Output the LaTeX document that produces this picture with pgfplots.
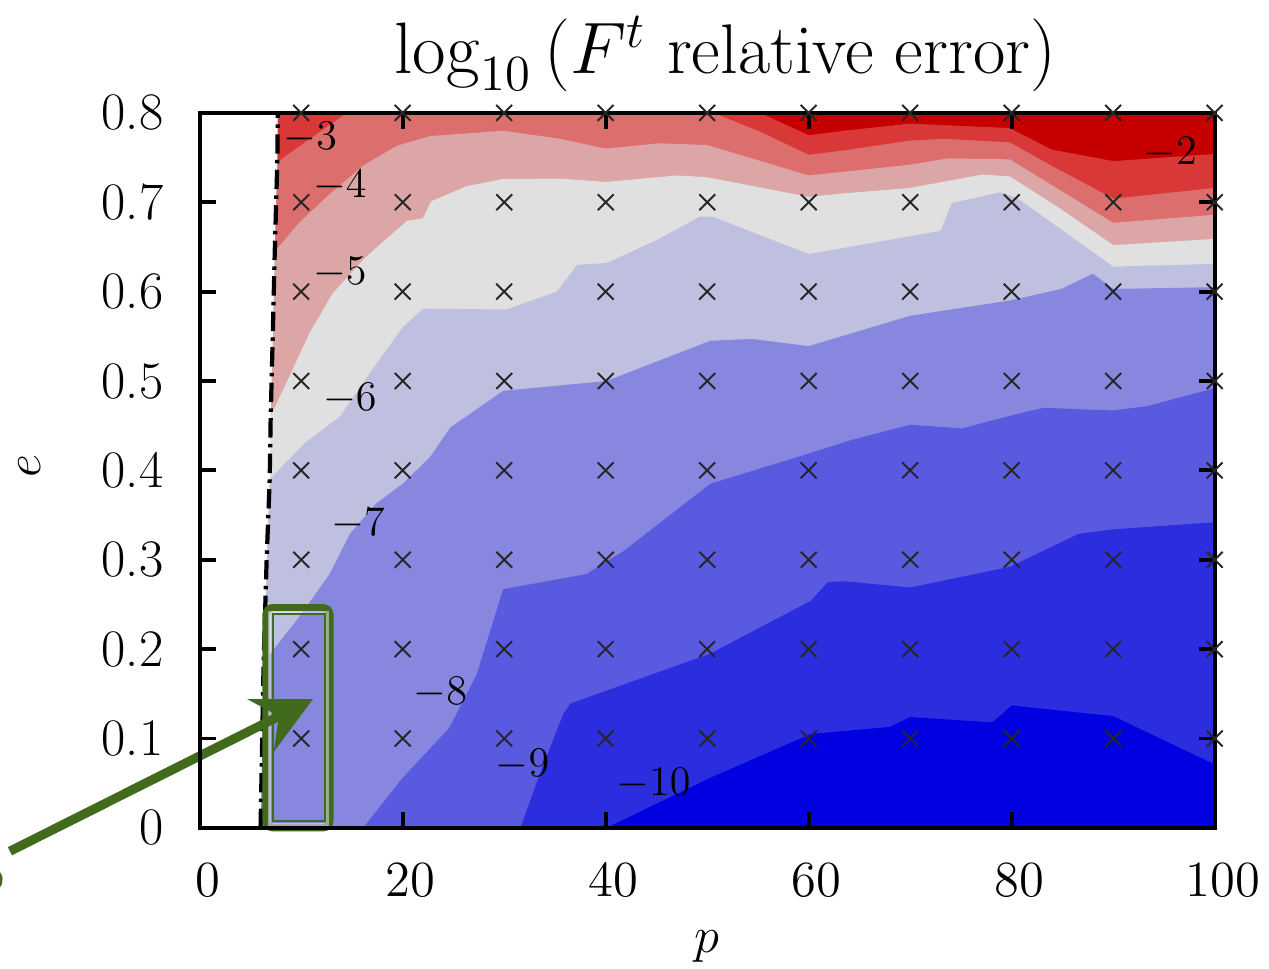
\documentclass[border=0pt]{standalone}
\usepackage{pgfplots}
\pgfplotsset{compat=1.18}
\usetikzlibrary{arrows.meta}

\definecolor{lvA}{RGB}{198,0,0}
\definecolor{lvB}{RGB}{217,56,56}
\definecolor{lvC}{RGB}{220,110,110}
\definecolor{lvD}{RGB}{220,166,166}
\definecolor{lvE}{RGB}{224,224,224}
\definecolor{lvF}{RGB}{191,191,224}
\definecolor{lvG}{RGB}{135,135,224}
\definecolor{lvH}{RGB}{90,90,224}
\definecolor{lvI}{RGB}{45,45,224}
\definecolor{lvJ}{RGB}{0,0,224}
\definecolor{annot}{RGB}{66,106,28}

\begin{document}
\begin{tikzpicture}
\begin{axis}[
  width=10.15cm, height=7.15cm, scale only axis,
  xmin=0, xmax=100, ymin=0, ymax=0.8,
  xtick={0,20,...,100},
  ytick={0,0.1,...,0.8},
  yticklabels={0,0.1,0.2,0.3,0.4,0.5,0.6,0.7,0.8},
  tick label style={font=\fontsize{15}{17}\selectfont},
  xticklabel style={yshift=-0.24cm, xshift=0.08cm},
  yticklabel style={xshift=-0.24cm},
  major tick length=0.16cm,
  axis line style={line width=1.1pt},
  every tick/.style={black, line width=1.1pt},
  axis on top,
  clip=false,
]
% filled bands, painted from the top level down
\addplot[fill=lvA, draw=none] coordinates {(0,0) (100,0) (100,0.8) (0,0.8)};
\addplot[fill=lvB, draw=none] coordinates {(0,0.8) (55.2,0.8) (60,0.775) (63.5,0.78) (70,0.788) (79.8,0.783) (83.9,0.759) (90,0.746) (100,0.754) (100,0) (0,0)};
\addplot[fill=lvC, draw=none] coordinates {(0,0.74) (7.65,0.745) (14.5,0.8) (50.6,0.8) (55.2,0.779) (60,0.753) (63.5,0.758) (70,0.769) (73.4,0.771) (79.8,0.767) (83.9,0.741) (90,0.704) (100,0.716) (100,0) (0,0)};
\addplot[fill=lvD, draw=none] coordinates {(0,0.62) (7.4,0.645) (9.8,0.677) (12.8,0.709) (16.1,0.741) (19.4,0.763) (22.7,0.774) (29.9,0.780) (35.5,0.771) (40,0.760) (45.3,0.766) (50,0.764) (60,0.730) (70,0.742) (73.7,0.749) (79.8,0.748) (90,0.677) (100,0.686) (100,0) (0,0)};
\addplot[fill=lvE, draw=none] coordinates {(0,0.43) (7.0,0.461) (8.8,0.504) (10.8,0.553) (13.1,0.598) (16.4,0.639) (20.4,0.679) (22.0,0.682) (22.8,0.701) (26.3,0.718) (29.9,0.726) (35.5,0.7265) (40,0.7227) (47,0.730) (50,0.728) (60,0.706) (63.5,0.710) (70,0.716) (77.1,0.731) (79.8,0.729) (84.9,0.692) (90,0.652) (100,0.659) (100,0) (0,0)};
\addplot[fill=lvF, draw=none] coordinates {(0,0.36) (6.9,0.39) (10.3,0.43) (13.8,0.46) (17.4,0.519) (20,0.560) (22,0.581) (30.2,0.580) (35.2,0.600) (37.2,0.630) (40.1,0.632) (45.1,0.658) (49.3,0.684) (50.5,0.684) (60,0.642) (73,0.668) (74.1,0.699) (78.8,0.711) (80.5,0.705) (90,0.628) (100,0.631) (100,0) (0,0)};
\addplot[fill=lvG, draw=none] coordinates {(0,0.16) (6.3,0.185) (9.8,0.236) (12.8,0.284) (14.8,0.329) (17.4,0.363) (20,0.385) (22.7,0.415) (24.7,0.448) (29.9,0.489) (40.1,0.500) (50.3,0.545) (54.4,0.547) (60,0.539) (70,0.573) (79.8,0.590) (84.9,0.603) (88,0.620) (90,0.603) (100,0.605) (100,0) (0,0)};
\addplot[fill=lvH, draw=none] coordinates {(16.1,0) (20,0.056) (24.6,0.112) (27.3,0.172) (29.9,0.267) (38.1,0.284) (41.8,0.310) (50.3,0.385) (59.5,0.417) (64.2,0.434) (70,0.451) (75.1,0.447) (81.2,0.465) (83.2,0.470) (90,0.467) (93.4,0.472) (100,0.492) (100,0)};
\addplot[fill=lvI, draw=none] coordinates {(31.6,0) (33.5,0.060) (35.8,0.127) (36.5,0.139) (50.3,0.195) (60.2,0.254) (61.9,0.275) (63.5,0.276) (70,0.269) (79.8,0.292) (86.6,0.329) (90,0.334) (100,0.342) (100,0)};
\addplot[fill=lvJ, draw=none] coordinates {(40.1,0) (50.3,0.056) (60.2,0.105) (68,0.113) (70,0.124) (78.1,0.118) (80,0.137) (90,0.125) (100,0.071) (100,0)};
% region outside the domain
\addplot[fill=white, draw=none] coordinates {(0,0) (6.0,0) (6.3,0.185) (6.6,0.3) (6.9,0.39) (7.0,0.461) (7.2,0.55) (7.4,0.645) (7.65,0.745) (7.7,0.8) (0,0.8)};
\addplot[black, line width=1.2pt, dash pattern=on 5.5pt off 1.8pt on 1pt off 1.8pt] coordinates {(6.0,0) (6.3,0.185) (6.6,0.3) (6.9,0.39) (7.0,0.461) (7.2,0.55) (7.4,0.645) (7.65,0.745) (7.7,0.8)};

% sample points
\addplot[only marks, mark=x, mark size=3.2pt, black!85, mark options={line width=0.55pt}] coordinates {
(10,0.1) (20,0.1) (30,0.1) (40,0.1) (50,0.1) (60,0.1) (70,0.1) (80,0.1) (90,0.1) (100,0.1)
(10,0.2) (20,0.2) (30,0.2) (40,0.2) (50,0.2) (60,0.2) (70,0.2) (80,0.2) (90,0.2) (100,0.2)
(10,0.3) (20,0.3) (30,0.3) (40,0.3) (50,0.3) (60,0.3) (70,0.3) (80,0.3) (90,0.3) (100,0.3)
(10,0.4) (20,0.4) (30,0.4) (40,0.4) (50,0.4) (60,0.4) (70,0.4) (80,0.4) (90,0.4) (100,0.4)
(10,0.5) (20,0.5) (30,0.5) (40,0.5) (50,0.5) (60,0.5) (70,0.5) (80,0.5) (90,0.5) (100,0.5)
(10,0.6) (20,0.6) (30,0.6) (40,0.6) (50,0.6) (60,0.6) (70,0.6) (80,0.6) (90,0.6) (100,0.6)
(10,0.7) (20,0.7) (30,0.7) (40,0.7) (50,0.7) (60,0.7) (70,0.7) (80,0.7) (90,0.7) (100,0.7)
(10,0.8) (20,0.8) (30,0.8) (40,0.8) (50,0.8) (60,0.8) (70,0.8) (80,0.8) (90,0.8) (100,0.8)
};

% contour labels
\begin{scope}[every node/.style={font=\fontsize{11.5}{14}\selectfont, inner sep=0pt}]
\node at (axis cs:10.9,0.772) {$-3$};
\node at (axis cs:13.8,0.719) {$-4$};
\node at (axis cs:13.8,0.621) {$-5$};
\node at (axis cs:14.8,0.480) {$-6$};
\node at (axis cs:15.6,0.340) {$-7$};
\node at (axis cs:23.7,0.151) {$-8$};
\node at (axis cs:31.8,0.071) {$-9$};
\node at (axis cs:44.7,0.050) {$-10$};
\node at (axis cs:95.6,0.756) {$-2$};
\end{scope}

% title and axis labels
\node[font=\fontsize{20}{23}\selectfont, inner sep=0pt] at (axis cs:51.8,0.866) {$\log_{10}\left(F^t \mbox{ relative error}\right)$};
\node[font=\fontsize{15}{17}\selectfont] at (axis cs:50,-0.133) {$p$};
\node[font=\fontsize{15}{17}\selectfont, rotate=90] at (axis cs:-16.8,0.405) {$e$};

% annotation
\draw[annot, line width=2pt, rounded corners=2pt] (axis cs:6.53,0.0) rectangle (axis cs:12.84,0.2465);
\draw[white, opacity=0.45, line width=0.8pt] (axis cs:6.88,0.0036) rectangle (axis cs:12.6,0.2415);
\draw[annot, line width=0.6pt] (axis cs:7.25,0.0075) rectangle (axis cs:12.37,0.239);
\draw[annot, line width=2.6pt, -{Stealth[length=0.58cm, width=0.58cm, inset=0.2cm]}] (axis cs:-18.69,-0.0261) -- (axis cs:11.16,0.144);
\fill[annot] (axis cs:-20.8,-0.058) circle (0.14cm);

\coordinate (bbsw) at (axis cs:-19.67,-0.1572);
\coordinate (bbne) at (axis cs:105.35,0.9263);
\end{axis}
\pgfresetboundingbox
\path[use as bounding box] (bbsw) rectangle (bbne);
\end{tikzpicture}
\end{document}
